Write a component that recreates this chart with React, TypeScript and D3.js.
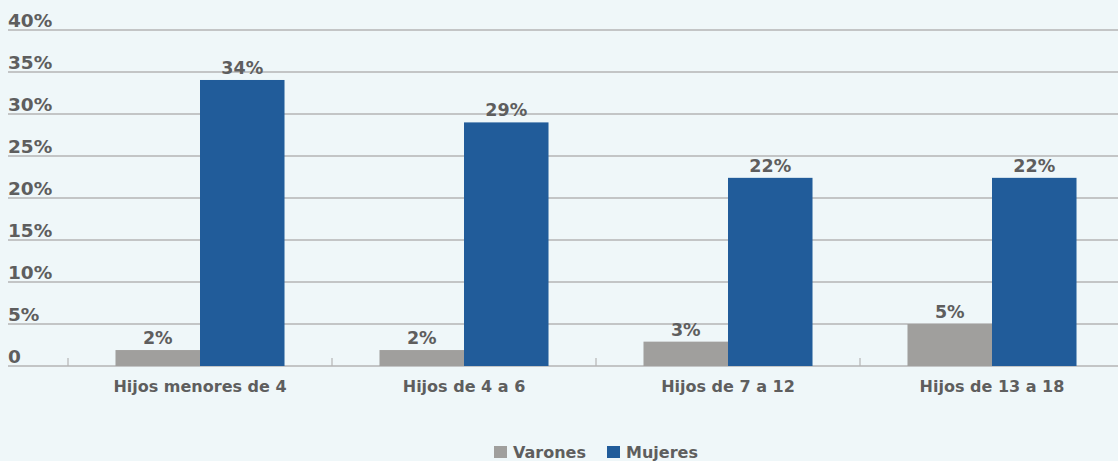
import React, { useRef, useEffect } from 'react';
import * as d3 from 'd3';

const categories = ['Hijos menores de 4', 'Hijos de 4 a 6', 'Hijos de 7 a 12', 'Hijos de 13 a 18'];
const seriesNames = ['Varones', 'Mujeres'];
const varones = [1.9, 1.9, 2.9, 5.0];
const mujeres = [34.05, 29, 22.4, 22.4];
const yTicks = [0, 5, 10, 15, 20, 25, 30, 35, 40];

const W = 1118;
const H = 461;
const FONT = '"DejaVu Sans", sans-serif';
const TEXT = '#5e5e5e';
const COLORS = ['#a09f9d', '#215c9a'];

export default function App() {
  const svgRef = useRef<SVGSVGElement>(null);

  useEffect(() => {
    const svg = d3.select(svgRef.current);
    svg.selectAll('*').remove();

    svg.append('rect').attr('width', W).attr('height', H).attr('fill', '#eff7f9');

    const y = d3.scaleLinear().domain([0, 40]).range([366, 30]);
    const x = d3.scaleBand<string>().domain(categories).range([68, 1124]).paddingInner(0).paddingOuter(0);
    // two bars touching in the middle of each group
    const inner = d3.scaleBand<string>().domain(seriesNames)
      .range([0, x.bandwidth()]).paddingInner(0).paddingOuter(0.562);

    // Gridlines + y labels
    yTicks.forEach((t) => {
      svg.append('line')
        .attr('x1', 8).attr('x2', W).attr('y1', y(t)).attr('y2', y(t))
        .attr('stroke', '#b4b4b4').attr('stroke-width', 1.5);
      svg.append('text')
        .attr('x', 8).attr('y', y(t) - 3)
        .attr('fill', TEXT).attr('font-family', FONT).attr('font-weight', 'bold')
        .attr('font-size', 18.5)
        .text(t === 0 ? '0' : `${t}%`);
    });

    // Category ticks
    categories.forEach((c) => {
      const bx = x(c)!;
      svg.append('line')
        .attr('x1', bx).attr('x2', bx).attr('y1', y(0)).attr('y2', y(0) - 8)
        .attr('stroke', '#b4b4b4').attr('stroke-width', 1.2);
    });

    const series = [varones, mujeres];
    series.forEach((vals, si) => {
      const name = seriesNames[si];
      const g = svg.append('g');
      g.selectAll('rect').data(vals).enter().append('rect')
        .attr('x', (_, i) => x(categories[i])! + inner(name)!)
        .attr('y', (d) => y(d))
        .attr('width', inner.bandwidth())
        .attr('height', (d) => y(0) - y(d))
        .attr('fill', COLORS[si]);
      g.selectAll('text').data(vals).enter().append('text')
        .attr('x', (_, i) => x(categories[i])! + inner(name)! + inner.bandwidth() / 2)
        .attr('y', (d) => y(d) - 6)
        .attr('text-anchor', 'middle')
        .attr('fill', TEXT).attr('font-family', FONT).attr('font-weight', 'bold')
        .attr('font-size', 17.5)
        .text((d) => `${Math.round(d)}%`);
    });

    // Category labels
    categories.forEach((c) => {
      svg.append('text')
        .attr('x', x(c)! + x.bandwidth() / 2).attr('y', 392)
        .attr('text-anchor', 'middle')
        .attr('fill', TEXT).attr('font-family', FONT).attr('font-weight', 'bold')
        .attr('font-size', 16)
        .text(c);
    });

    // Legend
    const legend = svg.append('g');
    const lx = [494, 607];
    seriesNames.forEach((n, i) => {
      legend.append('rect')
        .attr('x', lx[i]).attr('y', 446).attr('width', 13).attr('height', 12)
        .attr('fill', COLORS[i]);
      legend.append('text')
        .attr('x', lx[i] + 19).attr('y', 458)
        .attr('fill', TEXT).attr('font-family', FONT).attr('font-weight', 'bold')
        .attr('font-size', 16)
        .text(n);
    });
  }, []);

  return (
    <svg
      ref={svgRef}
      width={W}
      height={H}
      style={{ position: 'absolute', left: 0, top: 0, display: 'block' }}
    />
  );
}
